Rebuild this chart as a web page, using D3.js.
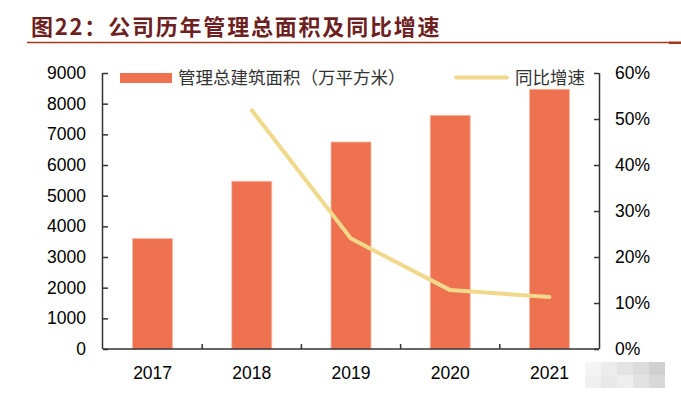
<!DOCTYPE html>
<html>
<head>
    <meta charset="utf-8" />
    <title>公司历年管理总面积及同比增速</title>
    <style>
        body { margin: 0; background: #fff; }
        svg { display: block; }
    </style>
</head>
<body>
<script src="https://d3js.org/d3.v7.min.js"></script>
<script>
    var years = ["2017", "2018", "2019", "2020", "2021"];
    var area = [3600, 5470, 6750, 7620, 8470];
    var growth = [null, 0.519, 0.240, 0.128, 0.113];
    var leftTicks = [0, 1000, 2000, 3000, 4000, 5000, 6000, 7000, 8000, 9000];
    var rightTicks = [0, 0.1, 0.2, 0.3, 0.4, 0.5, 0.6];

    var width = 681, height = 393;
    var margin = {left: 103, right: 82, top: 73, bottom: 44};
    var font = "'Liberation Sans', Arial, sans-serif";
    var cjk = "'Noto Sans CJK SC', sans-serif";

    var svg = d3.select("body").append("svg")
                .attr("width", width)
                .attr("height", height);

    // title
    svg.append("text")
       .attr("x", 31)
       .attr("y", 35)
       .attr("font-family", cjk)
       .attr("font-weight", "bold")
       .attr("font-size", 22)
       .attr("letter-spacing", 1.8)
       .attr("fill", "#6e1f1f")
       .text("图22：公司历年管理总面积及同比增速");

    svg.append("line")
       .attr("x1", 27).attr("x2", 670)
       .attr("y1", 42.5).attr("y2", 42.5)
       .attr("stroke", "#a8361c")
       .attr("stroke-width", 1.3);
    svg.append("rect")
       .attr("x", 669).attr("y", 41.5)
       .attr("width", 12).attr("height", 2.5)
       .attr("fill", "#a8361c");

    var x = d3.scaleBand()
              .domain(years)
              .range([margin.left, width - margin.right]);
    var yL = d3.scaleLinear().domain([0, 9000]).range([height - margin.bottom, margin.top]);
    var yR = d3.scaleLinear().domain([0, 0.6]).range([height - margin.bottom, margin.top]);

    var barW = 40;

    svg.append("g")
       .selectAll("rect")
       .data(area)
       .enter().append("rect")
       .attr("x", (d, i) => x(years[i]) + x.bandwidth() / 2 - barW / 2)
       .attr("y", d => yL(d))
       .attr("width", barW)
       .attr("height", d => yL(0) - yL(d))
       .attr("fill", "#ee7150")
       .attr("stroke", "#f6b9a6")
       .attr("stroke-width", 0.8);

    var pts = growth.map((g, i) => ({year: years[i], g: g})).filter(d => d.g !== null);
    var line = d3.line()
                 .x(d => x(d.year) + x.bandwidth() / 2)
                 .y(d => yR(d.g));
    svg.append("path")
       .datum(pts)
       .attr("d", line)
       .attr("fill", "none")
       .attr("stroke", "#f0d98b")
       .attr("stroke-width", 4)
       .attr("stroke-linecap", "round")
       .attr("stroke-linejoin", "round");

    // axes
    var axL = svg.append("g")
                 .attr("transform", "translate(" + margin.left + ",0)")
                 .call(d3.axisLeft(yL).tickValues(leftTicks).tickSize(-5).tickSizeOuter(-5).tickPadding(17).tickFormat(d3.format("d")));
    var axR = svg.append("g")
                 .attr("transform", "translate(" + (width - margin.right) + ",0)")
                 .call(d3.axisRight(yR).tickValues(rightTicks).tickSize(-5).tickSizeOuter(-5).tickPadding(16).tickFormat(d3.format(".0%")));
    var axB = svg.append("g")
                 .attr("transform", "translate(0," + (height - margin.bottom) + ")")
                 .call(d3.axisBottom(x).tickSize(0).tickPadding(18));

    // band boundary ticks on the x axis
    axB.selectAll(".sep")
       .data(years.slice(1))
       .enter().append("line")
       .attr("x1", d => x(d)).attr("x2", d => x(d))
       .attr("y1", 0).attr("y2", -5)
       .attr("stroke", "#333");

    [axL, axR, axB].forEach(function(a) {
        a.selectAll("path, line").attr("stroke", "#333").attr("stroke-width", 1.5);
        a.selectAll("text")
         .attr("font-family", font)
         .attr("font-size", 17.5)
         .attr("fill", "#000");
    });
    axL.select(".domain").attr("d", "M-0.5," + yL(9000) + "V" + yL(0));
    axR.select(".domain").attr("d", "M0.5," + yR(0.6) + "V" + yR(0));
    axB.select(".domain").attr("d", "M" + margin.left + ",0H" + (width - margin.right));

    // legend
    var lg = svg.append("g");
    lg.append("rect")
      .attr("x", 120).attr("y", 73)
      .attr("width", 52).attr("height", 10)
      .attr("fill", "#ee7150");
    lg.append("text")
      .attr("x", 178).attr("y", 84)
      .attr("font-family", cjk)
      .attr("font-size", 17.5)
      .attr("fill", "#333")
      .text("管理总建筑面积（万平方米）");
    lg.append("line")
      .attr("x1", 456).attr("x2", 507)
      .attr("y1", 77.5).attr("y2", 77.5)
      .attr("stroke", "#f0d98b")
      .attr("stroke-width", 4)
      .attr("stroke-linecap", "round");
    lg.append("text")
      .attr("x", 515).attr("y", 84)
      .attr("font-family", cjk)
      .attr("font-size", 17.5)
      .attr("fill", "#333")
      .text("同比增速");

    // blurred watermark in the corner
    var mosaic = ["#f4f4f4", "#ececec", "#e4e4e4", "#dcdcdc", "#d0d0d0", "#f0f0f0", "#e8e8e8", "#eeeeee", "#e2e2e2", "#d8d8d8"];
    svg.append("g")
       .selectAll("rect")
       .data(mosaic)
       .enter().append("rect")
       .attr("x", (d, i) => 585 + (i % 5) * 16)
       .attr("y", (d, i) => 362 + Math.floor(i / 5) * 13)
       .attr("width", 16)
       .attr("height", 13)
       .attr("fill", d => d);
</script>
</body>
</html>
